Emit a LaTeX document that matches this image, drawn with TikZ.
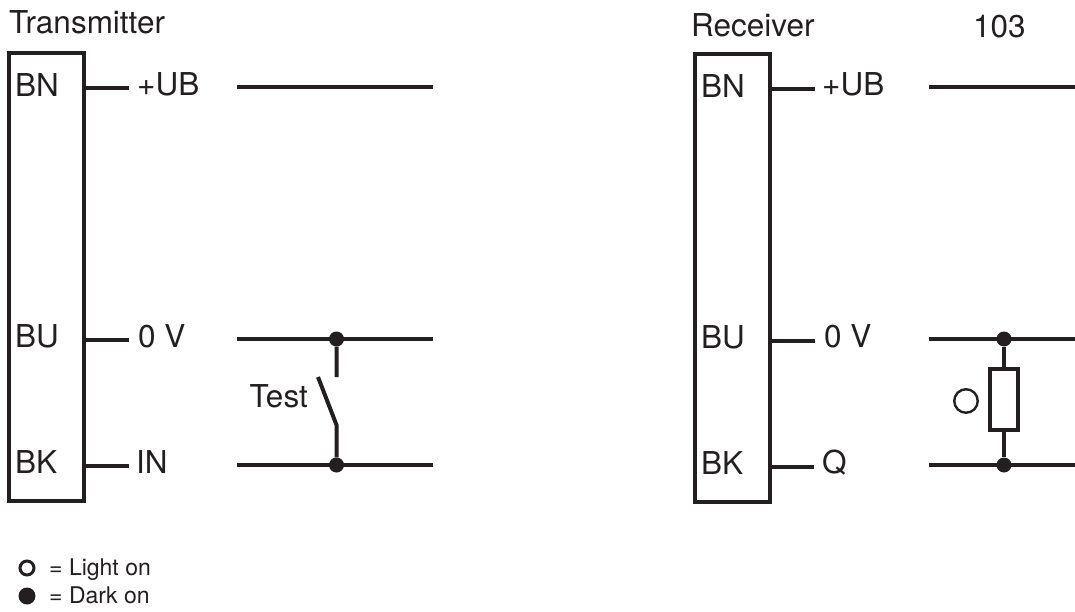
\documentclass[tikz,border=0pt]{standalone}
\usepackage{fontspec}
\setmainfont{TeX Gyre Heros}
\definecolor{ink}{HTML}{231F20}
\tikzset{
 wire/.style={draw=ink,line width=4pt,line cap=butt},
 lab/.style={font=\fontsize{31.5}{33}\selectfont,text=ink,inner sep=0,anchor=base west},
 small/.style={font=\fontsize{23}{25}\selectfont,text=ink,inner sep=0,anchor=base west},
 dot/.style={circle,fill=ink,inner sep=0,minimum size=15pt},
 termbox/.style={draw=ink,line width=4pt,inner sep=0,minimum width=75pt,minimum height=448pt},
}
\begin{document}
\begin{tikzpicture}[x=1pt,y=-1pt]
\useasboundingbox (0,0) rectangle (1075,612);
% Transmitter
\node[lab] (tt) at (9,33.5) {Transmitter};
\node[termbox] (tbox) at (46.5,277) {};
\node[lab] (tbn) at (15,97) {BN};
\node[lab] (tbu) at (15,347) {BU};
\node[lab] (tbk) at (15,473) {BK};
\coordinate (t1) at (84,88);\coordinate (t1e) at (129,88);
\coordinate (t2) at (84,340);\coordinate (t2e) at (129,340);
\coordinate (t3) at (84,466);\coordinate (t3e) at (129,466);
\draw[wire] (t1)--(t1e) (t2)--(t2e) (t3)--(t3e);
\node[lab] (tub) at (137,95.5) {+UB};
\node[lab] (t0v) at (138,347) {0 V};
\node[lab] (tin) at (136,473) {IN};
\coordinate (a1) at (237,87.5);\coordinate (a1e) at (432.5,87.5);
\coordinate (a2) at (237,339);\coordinate (a2e) at (432.5,339);
\coordinate (a3) at (237,465);\coordinate (a3e) at (432.5,465);
\draw[wire] (a1)--(a1e) (a2)--(a2e) (a3)--(a3e);
\node[dot] (d1) at (336.5,339) {};
\node[dot] (d2) at (336.5,465) {};
\coordinate (s1) at (336.5,377);\coordinate (s2) at (336.5,425);\coordinate (s3) at (318,377);
\draw[wire] (d1)--(s1) (d2)--(s2)--(s3);
\node[lab] (test) at (249.5,407) {Test};
% Receiver
\node[lab] (rt) at (691,36.5) {Receiver};
\node[lab] (num) at (973,38) {103};
\node[termbox] (rbox) at (732.5,278) {};
\node[lab] (rbn) at (701,98) {BN};
\node[lab] (rbu) at (701,348) {BU};
\node[lab] (rbk) at (701,474) {BK};
\coordinate (r1) at (770,89);\coordinate (r1e) at (815,89);
\coordinate (r2) at (770,341);\coordinate (r2e) at (815,341);
\coordinate (r3) at (770,467);\coordinate (r3e) at (814,467);
\draw[wire] (r1)--(r1e) (r2)--(r2e) (r3)--(r3e);
\node[lab] (rub) at (822,95.5) {+UB};
\node[lab] (r0v) at (824,347) {0 V};
\node[lab] (rq) at (822,473) {Q};
\coordinate (b1) at (929,87.5);\coordinate (b1e) at (1075,87.5);
\coordinate (b2) at (929,339);\coordinate (b2e) at (1075,339);
\coordinate (b3) at (929,465);\coordinate (b3e) at (1075,465);
\draw[wire] (b1)--(b1e) (b2)--(b2e) (b3)--(b3e);
\node[dot] (e1) at (1004,339) {};
\node[dot] (e2) at (1004,465) {};
\node[draw=ink,line width=4pt,minimum width=28pt,minimum height=61pt,inner sep=0] (res) at (1004,399.5) {};
\draw[wire] (e1)--(res) (res)--(e2);
\node[draw=ink,circle,line width=2.4pt,minimum size=23.5pt,inner sep=0] (lo) at (966,401) {};
% legend
\node[draw=ink,circle,line width=3pt,minimum size=14pt,inner sep=0] (l1) at (27,568) {};
\node[circle,fill=ink,minimum size=17pt,inner sep=0] (l2) at (27,596) {};
\node[small] (t1l) at (49,575) {= Light on};
\node[small] (t2l) at (49,603) {= Dark on};
\end{tikzpicture}
\end{document}
